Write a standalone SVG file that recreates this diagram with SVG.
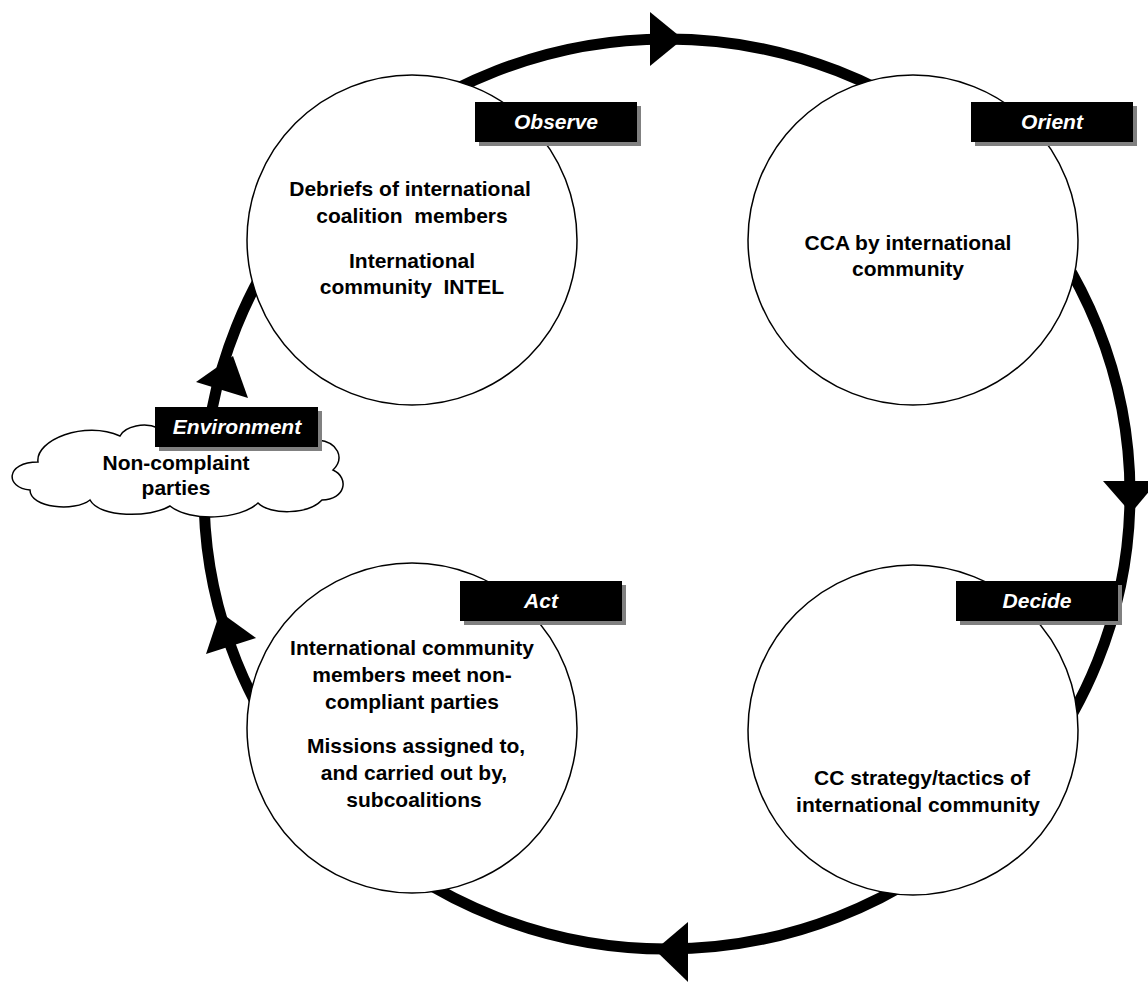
<svg xmlns="http://www.w3.org/2000/svg" width="1148" height="984" viewBox="0 0 1148 984">
<style>
.ring{fill:none;stroke:#000;stroke-width:11}
.head{fill:#000}
.node{fill:#fff;stroke:#000;stroke-width:1.5}
.shadow{fill:#808080}
.lbl{fill:#000}
.lt{font-family:"Liberation Sans",Arial,sans-serif;font-weight:bold;font-style:italic;font-size:21px;fill:#fff;text-anchor:middle}
.t{font-family:"Liberation Sans",Arial,sans-serif;font-weight:bold;font-size:21px;fill:#000;text-anchor:middle}
</style>
<rect width="1148" height="984" fill="#fff"/>
<g id="connectors">
<ellipse class="ring" cx="667" cy="494" rx="463" ry="455"/>
<polygon class="head" points="650,12 650,66 683,39"/>
<polygon class="head" points="1103,481 1158,481 1131,513"/>
<polygon class="head" points="688,922 688,982 655,950"/>
<polygon class="head" points="233,356 196,382 248,398"/>
<polygon class="head" points="220,612 206,654 256,638"/>
</g>
<g id="observe">
<circle class="node" cx="412" cy="240" r="165"/>
<rect class="shadow" x="479" y="106" width="162" height="40"/>
<rect class="lbl" x="475" y="102" width="162" height="40"/>
<text class="lt" x="556" y="129">Observe</text>
<text class="t" x="410" y="196">Debriefs of international</text>
<text class="t" x="412" y="223" xml:space="preserve">coalition  members</text>
<text class="t" x="412" y="268">International</text>
<text class="t" x="412" y="294" xml:space="preserve">community  INTEL</text>
</g>
<g id="orient">
<circle class="node" cx="913" cy="240" r="165"/>
<rect class="shadow" x="975" y="106" width="162" height="40"/>
<rect class="lbl" x="971" y="102" width="162" height="40"/>
<text class="lt" x="1052" y="129">Orient</text>
<text class="t" x="908" y="250">CCA by international</text>
<text class="t" x="908" y="276">community</text>
</g>
<g id="decide">
<circle class="node" cx="913" cy="730" r="165"/>
<rect class="shadow" x="960" y="585" width="162" height="40"/>
<rect class="lbl" x="956" y="581" width="162" height="40"/>
<text class="lt" x="1037" y="608">Decide</text>
<text class="t" x="922" y="785">CC strategy/tactics of</text>
<text class="t" x="918" y="812">international community</text>
</g>
<g id="act">
<circle class="node" cx="412" cy="728" r="165"/>
<rect class="shadow" x="464" y="585" width="162" height="40"/>
<rect class="lbl" x="460" y="581" width="162" height="40"/>
<text class="lt" x="541" y="608">Act</text>
<text class="t" x="412" y="655">International community</text>
<text class="t" x="412" y="682">members meet non-</text>
<text class="t" x="412" y="709">compliant parties</text>
<text class="t" x="416" y="753">Missions assigned to,</text>
<text class="t" x="414" y="780">and carried out by,</text>
<text class="t" x="414" y="807">subcoalitions</text>
</g>
<g id="environment">
<path class="node" d="M38,462 C35,440 85,420 120,436 C125,426 145,422 158,428 C200,405 290,405 318,440 C338,442 345,458 333,470 C350,478 345,500 322,500 C308,515 270,515 258,503 C240,520 190,522 170,506 C150,518 100,518 90,500 C75,512 30,508 30,490 C5,488 5,462 38,462 Z"/>
<rect class="shadow" x="159" y="411" width="163" height="40"/>
<rect class="lbl" x="155" y="407" width="163" height="40"/>
<text class="lt" x="237" y="434">Environment</text>
<text class="t" x="176" y="470">Non-complaint</text>
<text class="t" x="176" y="495">parties</text>
</g>
</svg>
